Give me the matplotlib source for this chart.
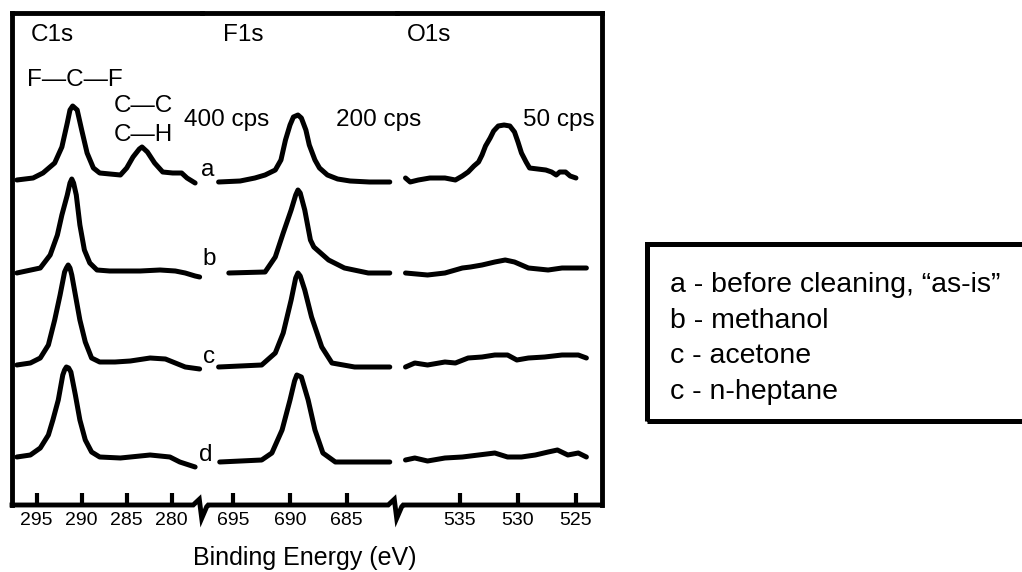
import matplotlib
matplotlib.use("Agg")
import numpy as np
import matplotlib.pyplot as plt
from matplotlib.lines import Line2D
from matplotlib.patches import Rectangle

plt.rcParams["font.family"] = ["Liberation Sans", "DejaVu Sans"]

# ---------------- data ----------------
sample_ids = ["a", "b", "c", "d"]
legend_labels = [
    "a - before cleaning, \u201cas-is\u201d",
    "b - methanol",
    "c - acetone",
    "c - n-heptane",
]
region_names = ["C1s", "F1s", "O1s"]
scale_labels = ["400 cps", "200 cps", "50 cps"]

c1s_ticks = [295, 290, 285, 280]
f1s_ticks = [695, 690, 685]
o1s_ticks = [535, 530, 525]

# C1s spectra: binding energy (eV) and normalised intensity
c1s_energy_a = [297.2, 295.4, 294.3, 293.0, 292.2, 291.6, 291.3, 291.0, 290.5, 290.0,
                289.4, 288.7, 288.0, 285.7, 285.0, 284.3, 283.6, 283.3, 282.7, 281.9,
                281.0, 279.9, 278.9, 278.3, 277.4]
c1s_int_a = [-0.02, 0.00, 0.05, 0.15, 0.31, 0.55, 0.68, 0.72, 0.68, 0.48,
             0.25, 0.10, 0.05, 0.03, 0.10, 0.21, 0.29, 0.31, 0.26, 0.15,
             0.06, 0.05, 0.05, 0.00, -0.05]

c1s_energy_b = [297.2, 294.6, 293.5, 292.7, 292.2, 291.6, 291.3, 291.1, 290.9, 290.6,
                290.2, 289.7, 289.1, 288.3, 286.9, 283.5, 281.3, 279.6, 278.5, 277.4, 276.9]
c1s_int_b = [0.00, 0.05, 0.18, 0.38, 0.58, 0.78, 0.90, 0.94, 0.90, 0.78,
             0.48, 0.23, 0.10, 0.03, 0.02, 0.02, 0.03, 0.02, 0.00, -0.03, -0.04]

c1s_energy_c = [297.2, 295.7, 294.6, 293.7, 293.0, 292.4, 291.9, 291.7, 291.5, 291.3,
                291.1, 290.6, 290.2, 289.6, 288.9, 288.0, 286.3, 284.6, 282.4, 280.7,
                279.6, 278.5, 276.9]
c1s_int_c = [0.00, 0.02, 0.07, 0.20, 0.45, 0.70, 0.93, 0.97, 1.00, 0.97,
             0.90, 0.65, 0.45, 0.23, 0.07, 0.03, 0.03, 0.04, 0.07, 0.06,
             0.02, -0.02, -0.04]

c1s_energy_d = [297.2, 295.7, 294.6, 293.7, 293.2, 292.6, 292.1, 291.9, 291.7, 291.45,
                291.2, 290.7, 290.2, 289.6, 288.9, 288.0, 285.7, 282.4, 280.2, 279.1, 277.4]
c1s_int_d = [0.01, 0.03, 0.10, 0.23, 0.38, 0.58, 0.83, 0.88, 0.91, 0.90,
             0.86, 0.63, 0.38, 0.18, 0.06, 0.01, 0.00, 0.03, 0.01, -0.04, -0.09]

# F1s spectra
f1s_energy_a = [696.3, 694.4, 693.1, 692.2, 691.3, 690.8, 690.4, 690.0, 689.7, 689.3,
                689.0, 688.6, 688.3, 687.8, 687.4, 686.7, 685.8, 684.7, 683.0, 681.2]
f1s_int_a = [-0.04, -0.03, 0.00, 0.03, 0.08, 0.18, 0.38, 0.53, 0.61, 0.63,
             0.60, 0.48, 0.33, 0.18, 0.10, 0.03, -0.01, -0.03, -0.04, -0.04]

f1s_energy_b = [695.4, 692.2, 691.3, 690.6, 689.9, 689.5, 689.3, 689.1, 688.7, 688.2,
                687.9, 686.6, 685.2, 683.1, 681.2]
f1s_int_b = [0.00, 0.01, 0.16, 0.40, 0.63, 0.78, 0.83, 0.80, 0.63, 0.33,
             0.26, 0.13, 0.05, 0.00, 0.00]

f1s_energy_c = [696.3, 692.5, 691.3, 690.6, 689.9, 689.5, 689.3, 689.1, 688.7, 688.1,
                687.2, 686.3, 684.3, 681.2]
f1s_int_c = [-0.02, 0.00, 0.12, 0.32, 0.65, 0.87, 0.92, 0.89, 0.75, 0.48,
             0.18, 0.02, -0.02, -0.02]

f1s_energy_d = [696.2, 692.5, 691.6, 690.7, 690.0, 689.6, 689.4, 689.0, 688.4, 687.8,
                687.1, 686.0, 681.2]
f1s_int_d = [-0.04, -0.02, 0.05, 0.28, 0.58, 0.77, 0.83, 0.81, 0.58, 0.28,
             0.05, -0.04, -0.04]

# O1s spectra
o1s_energy_a = [539.7, 539.3, 538.6, 537.6, 536.3, 535.4, 534.8, 534.3, 533.8, 533.4,
                533.1, 532.8, 532.4, 532.1, 531.7, 531.2, 530.7, 530.3, 530.0, 529.7,
                529.3, 529.0, 528.3, 527.6, 527.1, 526.7, 526.4, 525.9, 525.5, 525.0]
o1s_int_a = [0.00, -0.04, -0.02, 0.00, 0.00, -0.02, 0.02, 0.06, 0.12, 0.16,
             0.23, 0.32, 0.40, 0.47, 0.52, 0.53, 0.52, 0.46, 0.36, 0.25,
             0.16, 0.10, 0.09, 0.08, 0.06, 0.03, 0.06, 0.06, 0.02, 0.00]

o1s_energy_b = [539.7, 537.8, 536.3, 534.8, 534.1, 533.1, 532.0, 531.1, 530.3, 529.1,
                527.4, 526.2, 524.1]
o1s_int_b = [0.00, -0.02, 0.00, 0.05, 0.06, 0.08, 0.11, 0.13, 0.11, 0.05,
             0.03, 0.05, 0.05]

o1s_energy_c = [539.7, 538.9, 537.8, 536.3, 535.4, 534.3, 533.1, 532.0, 530.9, 530.1,
                529.1, 527.7, 526.2, 524.8, 524.1]
o1s_int_c = [-0.02, 0.02, 0.00, 0.03, 0.02, 0.07, 0.08, 0.10, 0.10, 0.05,
             0.07, 0.08, 0.10, 0.10, 0.07]

o1s_energy_d = [539.7, 538.9, 537.8, 536.3, 534.8, 533.4, 532.0, 530.9, 529.7, 528.5,
                527.4, 526.6, 525.7, 524.8, 524.1]
o1s_int_d = [-0.02, 0.00, -0.03, 0.00, 0.01, 0.03, 0.05, 0.01, 0.01, 0.03,
             0.06, 0.08, 0.03, 0.05, 0.01]

c1s_spectra = [(c1s_energy_a, c1s_int_a), (c1s_energy_b, c1s_int_b),
               (c1s_energy_c, c1s_int_c), (c1s_energy_d, c1s_int_d)]
f1s_spectra = [(f1s_energy_a, f1s_int_a), (f1s_energy_b, f1s_int_b),
               (f1s_energy_c, f1s_int_c), (f1s_energy_d, f1s_int_d)]
o1s_spectra = [(o1s_energy_a, o1s_int_a), (o1s_energy_b, o1s_int_b),
               (o1s_energy_c, o1s_int_c), (o1s_energy_d, o1s_int_d)]

# ---------------- layout ----------------
W, H = 1022, 572
fig = plt.figure(figsize=(W / 100, H / 100), dpi=100)
fig.patch.set_facecolor("white")


def fx(px):
    return px / W


def fy(py):
    return 1 - py / H


frame_left, break1, break2, frame_right = 12, 201.7, 396.7, 601.7
frame_top, frame_bottom = 13, 505
stack_offsets = [3.27, 2.32, 1.40, 0.47]
ytop = 4.92
frame_lw = 3.5
trace_lw = 3.6

bounds = [(frame_left, break1), (break1, break2), (break2, frame_right)]
xlims = [(297.74, 276.67), (697.79, 680.59), (540.46, 522.78)]
ticks = [c1s_ticks, f1s_ticks, o1s_ticks]
spectra = [c1s_spectra, f1s_spectra, o1s_spectra]

axes = []
for i, ((x0, x1), xl, tk, spec) in enumerate(zip(bounds, xlims, ticks, spectra)):
    ax = fig.add_axes([fx(x0), fy(frame_bottom), fx(x1) - fx(x0),
                       fy(frame_top) - fy(frame_bottom)])
    ax.set_xlim(*xl)
    ax.set_ylim(0, ytop)
    ax.patch.set_alpha(0)
    ax.set_yticks([])
    ax.set_xticks(tk)
    ax.set_xticklabels([str(t) for t in tk])
    ax.tick_params(axis="x", direction="in", length=9, width=3, pad=5,
                   labelsize=14, colors="black")
    for side in ["left", "right", "bottom"]:
        ax.spines[side].set_visible(False)
    ax.spines["top"].set_linewidth(frame_lw)
    if i == 0:
        ax.spines["left"].set_visible(True)
        ax.spines["left"].set_linewidth(frame_lw)
    if i == 2:
        ax.spines["right"].set_visible(True)
        ax.spines["right"].set_linewidth(frame_lw)
    for (e, inten), off in zip(spec, stack_offsets):
        ax.plot(e, np.asarray(inten) + off, color="black", lw=trace_lw,
                solid_joinstyle="round", solid_capstyle="round", clip_on=False)
    axes.append(ax)

axC, axF, axO = axes

# bottom axis line with break marks
bx = [frame_left]
by = [frame_bottom]
for b in (break1, break2):
    bx += [b - 8.5, b - 2.4, b, b + 5.0, b + 6.5]
    by += [frame_bottom, frame_bottom - 5.7, frame_bottom + 13.3,
           frame_bottom + 1.7, frame_bottom]
bx.append(frame_right)
by.append(frame_bottom)
fig.add_artist(Line2D([fx(v) for v in bx], [fy(v) for v in by],
                      transform=fig.transFigure, color="black", lw=frame_lw,
                      solid_joinstyle="miter", solid_capstyle="projecting"))

# region titles and count-rate labels
txt = dict(color="black", fontsize=17.5, va="center")
axC.text(295.7, 4.70, region_names[0], ha="left", **txt)
axF.text(695.9, 4.70, region_names[1], ha="left", **txt)
axO.text(539.6, 4.70, region_names[2], ha="left", **txt)
axC.text(278.6, 3.85, scale_labels[0], ha="left", **txt)
axF.text(685.9, 3.85, scale_labels[1], ha="left", **txt)
axO.text(529.6, 3.85, scale_labels[2], ha="left", **txt)

# bond assignments
axC.text(290.8, 4.25, "F\u2014C\u2014F", ha="center", **txt)
axC.text(283.2, 3.99, "C\u2014C", ha="center", **txt)
axC.text(283.2, 3.70, "C\u2014H", ha="center", **txt)

# sample letters
letter_pos = [(697.3, 3.35), (697.1, 2.46), (697.1, 1.48), (697.4, 0.50)]
for s, (ex, yy) in zip(sample_ids, letter_pos):
    axF.text(ex, yy, s, ha="center", **txt)

fig.text(fx(305), fy(558), "Binding Energy (eV)", ha="center", va="center",
         fontsize=18, color="black")

# legend box
fig.add_artist(Rectangle((fx(647), fy(421)), fx(1040) - fx(647), fy(244) - fy(421),
                         transform=fig.transFigure, fill=False, lw=3.6,
                         edgecolor="black"))
for k, lab in enumerate(legend_labels):
    fig.text(fx(670), fy(285 + 35.7 * k), lab, ha="left", va="center",
             fontsize=20.5, color="black")

fig.savefig("out.png", dpi=100, facecolor="white")
